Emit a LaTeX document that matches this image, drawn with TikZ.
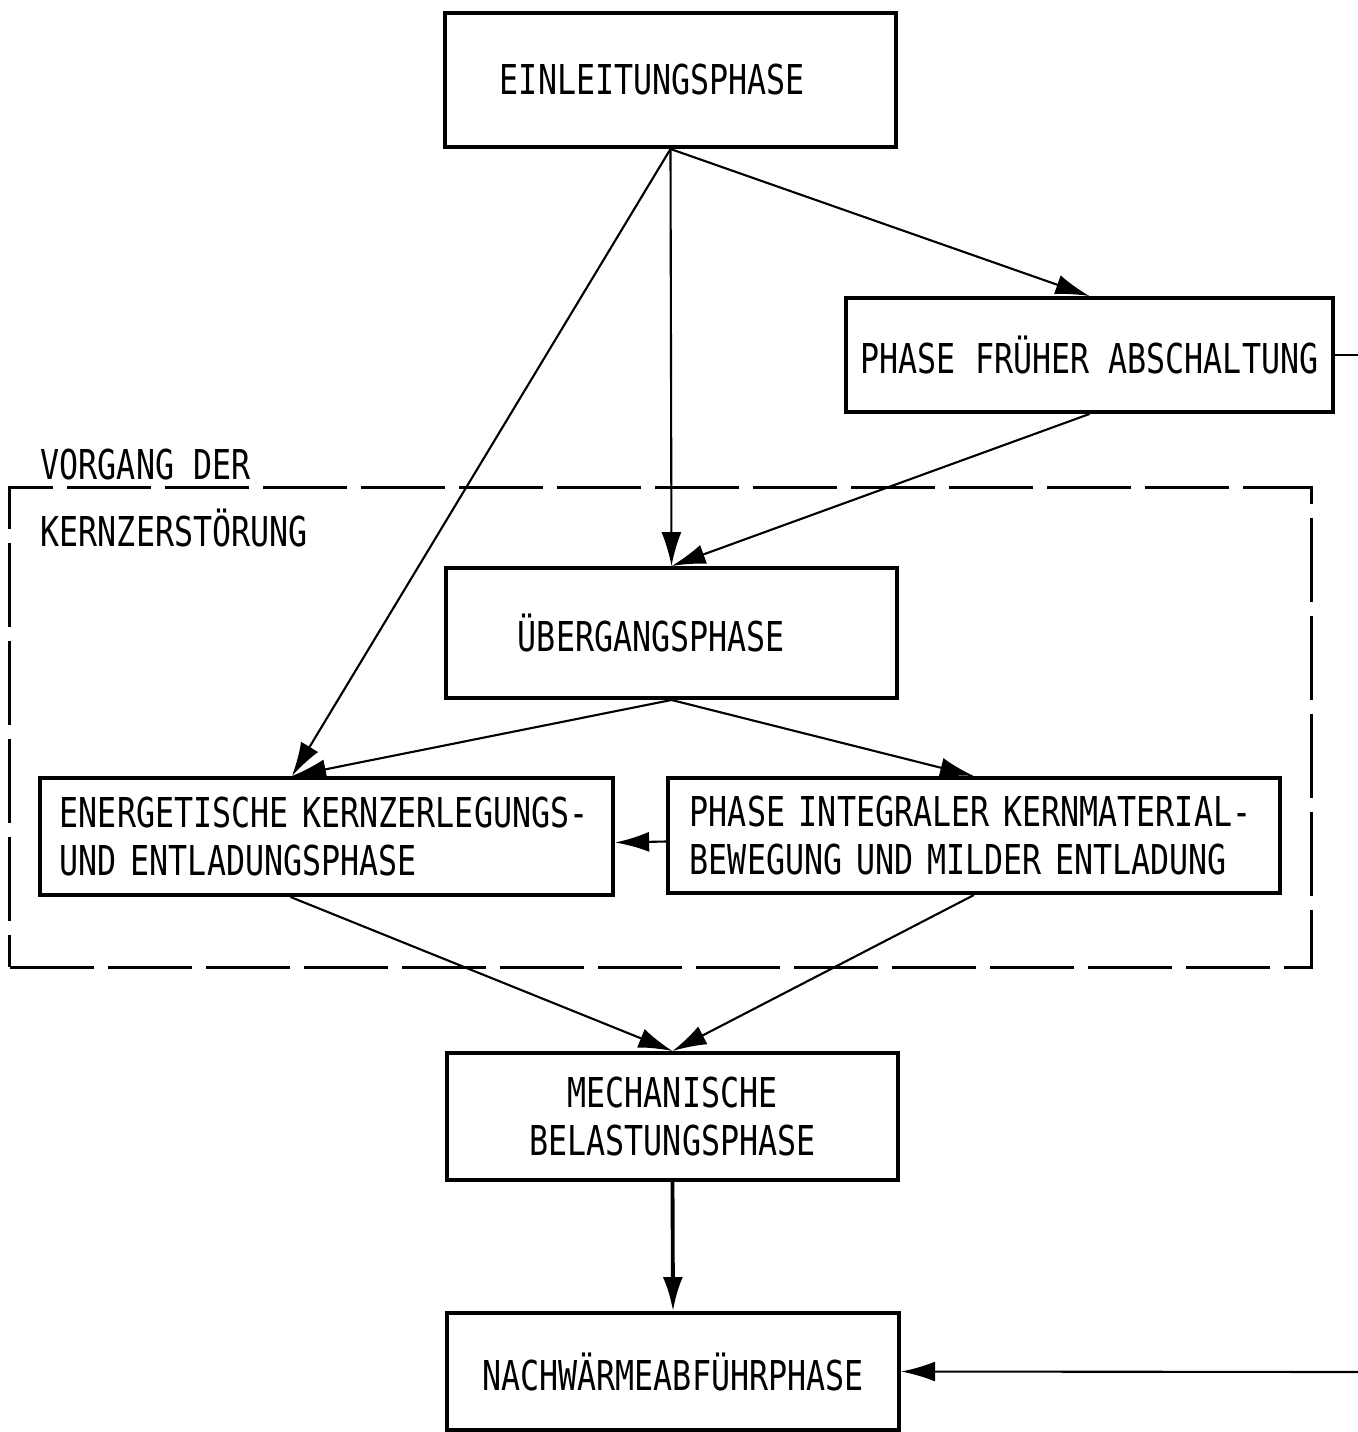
\documentclass[tikz,border=0pt]{standalone}
\usepackage{fontspec}
\newfontfamily\schablone{DejaVu Sans Mono}[FakeStretch=0.77]
\usetikzlibrary{arrows.meta,positioning}

\begin{document}
\begin{tikzpicture}[
  x=0.01cm, y=-0.01cm,
  font=\schablone\fontsize{11.7pt}{13.6pt}\selectfont,
  phase/.style={draw, line width=1.1pt, minimum width=4.51cm, align=center},
  zweizeilig/.style={draw, line width=1.1pt, align=left, inner ysep=0pt},
  rahmen/.style={draw, line width=0.9pt, dash pattern=on 0.84cm off 0.14cm},
  arrow/.style={-{Latex[length=3.4mm,width=2mm]}, line width=0.6pt}
]
\useasboundingbox (0,0) rectangle (1358,1432);
\node[rahmen, minimum width=13.01cm, minimum height=4.79cm] (kern) at (660.5,727.5) {};
\node[anchor=west, inner sep=0pt] (titel1) at (40,465) {VORGANG DER};
\node[anchor=west, inner sep=0pt] (titel2) at (40,528) {KERNZERSTÖRUNG};
\node[phase, align=left, text width=3.41cm, inner xsep=0.55cm, minimum height=1.34cm] (einl) at (670.5,80) {EINLEITUNGSPHASE};
\node[phase, minimum width=4.87cm, minimum height=1.14cm] (frueh) at (1089.5,355) {PHASE FRÜHER ABSCHALTUNG};
\node[phase, align=left, text width=3.07cm, inner xsep=0.72cm, minimum height=1.30cm] (ueber) at (671.5,633) {ÜBERGANGSPHASE};
\node[zweizeilig, text width=5.33cm, inner xsep=0.2cm, minimum height=1.17cm] (energ) at (326.5,836.5)
  {ENERGETISCHE KERNZERLEGUNGS-\\UND ENTLADUNGSPHASE};
\node[zweizeilig, text width=5.68cm, inner xsep=0.22cm, minimum height=1.15cm] (integ) at (974,835.5)
  {PHASE INTEGRALER KERNMATERIAL-\\BEWEGUNG UND MILDER ENTLADUNG};
\node[phase, minimum height=1.27cm] (mech) at (672.5,1116.5) {MECHANISCHE\\BELASTUNGSPHASE};
\node[phase, minimum width=4.52cm, minimum height=1.17cm] (nach) at (673,1371.5) {NACHWÄRMEABFÜHRPHASE};
\coordinate (randoben) at (1358,355);
\coordinate (randunten) at (1358,1372);
\draw[arrow] (einl.south) -- (ueber.north);
\draw[arrow] (einl.south) -- (frueh.north);
\draw[arrow] (einl.south) -- ([xshift=-0.345cm]energ.north);
\draw[arrow] (frueh.south) -- (ueber.north);
\draw[arrow] (ueber.south) -- ([xshift=-0.345cm]energ.north);
\draw[arrow] (ueber.south) -- (integ.north);
\draw[arrow] ([yshift=-0.06cm]integ.west) -- ([yshift=-0.06cm]energ.east);
\draw[arrow] ([xshift=-0.36cm]energ.south) -- (mech.north);
\draw[arrow] (integ.south) -- (mech.north);
\draw[arrow, line width=1.1pt] (mech.south) -- (nach.north);
\draw[line width=0.6pt] (frueh.east) -- (randoben);
\draw[arrow] (randunten) -- (nach.east);
\end{tikzpicture}
\end{document}
